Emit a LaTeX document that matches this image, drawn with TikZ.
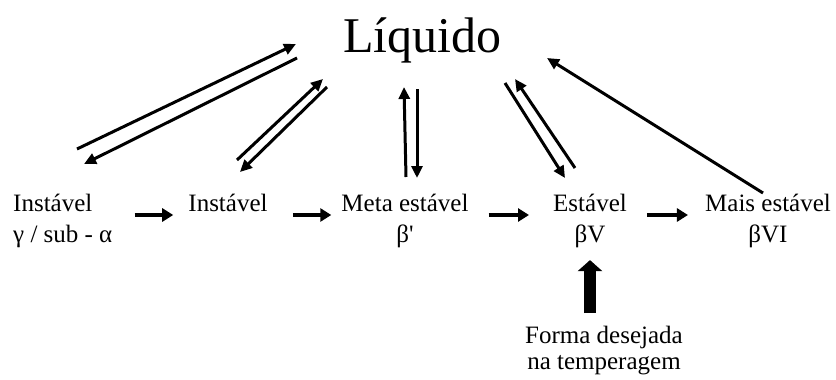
\documentclass[tikz,border=0pt]{standalone}
\usepackage{fontspec}
\setmainfont{Liberation Serif}
\usetikzlibrary{arrows.meta}
\begin{document}
\begin{tikzpicture}[x=1pt,y=-1pt,
  lbl/.style={inner sep=0pt, align=center, font=\fontsize{25}{31}\selectfont},
  darrow/.style={line width=3pt, -{Triangle[length=12pt,width=11pt]}},
  harrow/.style={line width=4pt, -{Triangle[length=11pt,width=13pt]}},
  bigarrow/.style={line width=12pt, -{Triangle[length=11pt,width=24pt]}}]
\useasboundingbox (0,0) rectangle (836,380);
% nodes
\node[inner sep=0pt, anchor=base west, font=\fontsize{50}{60}\selectfont] (liq) at (343,52) {Líquido};
\node[lbl, anchor=north west, align=left] (a) at (13,194) {Instável\\γ / sub - α};
\node[lbl, anchor=north] (b) at (228,194) {Instável};
\node[lbl, anchor=north] (c) at (405,194) {Meta estável\\β\textquotesingle};
\node[lbl, anchor=north] (d) at (590,194) {Estável\\βV};
\node[lbl, anchor=north] (e) at (768,194) {Mais estável\\βVI};
\node[lbl, anchor=north, font=\fontsize{25}{26}\selectfont] (f) at (604,326) {Forma desejada\\na temperagem};
% free ends of the connectors to Liquido
\coordinate (u1s) at (77,149);  \coordinate (u1e) at (296,44);
\coordinate (d1s) at (297,58);  \coordinate (d1e) at (84,164);
\coordinate (u2s) at (237,160); \coordinate (u2e) at (323,79);
\coordinate (d2s) at (327,87);  \coordinate (d2e) at (240,172);
\coordinate (u3s) at (406,177); \coordinate (u3e) at (404,87);
\coordinate (d3s) at (417,89);  \coordinate (d3e) at (417,178);
\coordinate (d4s) at (505,83);  \coordinate (d4e) at (565,178);
\coordinate (u4s) at (575,168); \coordinate (u4e) at (515,79);
\coordinate (u5s) at (763,193); \coordinate (u5e) at (547,58);
\draw[darrow] (u1s) -- (u1e);
\draw[darrow] (d1s) -- (d1e);
\draw[darrow] (u2s) -- (u2e);
\draw[darrow] (d2s) -- (d2e);
\draw[darrow] (u3s) -- (u3e);
\draw[darrow] (d3s) -- (d3e);
\draw[darrow] (d4s) -- (d4e);
\draw[darrow] (u4s) -- (u4e);
\draw[darrow] (u5s) -- (u5e);
% horizontal sequence
\coordinate (hy) at (0,215);
\draw[harrow, shorten <=22pt, shorten >=15pt] (a.east |- hy) -- (b.west |- hy);
\draw[harrow, shorten <=25pt, shorten >=10pt] (b.east |- hy) -- (c.west |- hy);
\draw[harrow, shorten <=20pt, shorten >=24pt] (c.east |- hy) -- (d.west |- hy);
\draw[harrow, shorten <=20pt, shorten >=17pt] (d.east |- hy) -- (e.west |- hy);
% tempering arrow
\draw[bigarrow, shorten <=13pt, shorten >=12pt] (d.south |- f.north) -- (d.south);
\end{tikzpicture}
\end{document}
